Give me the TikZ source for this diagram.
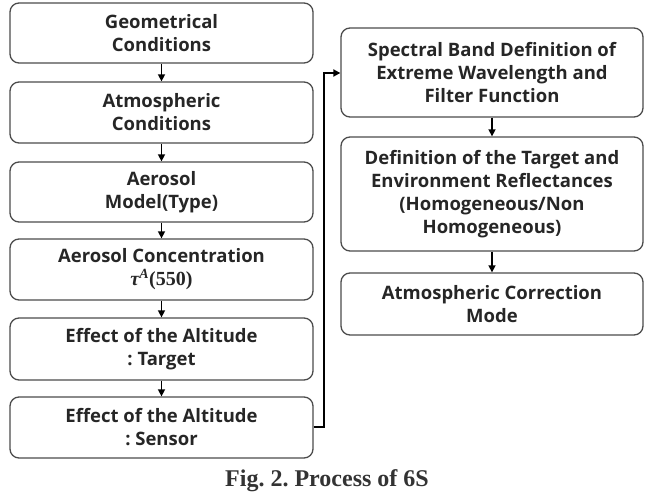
\documentclass[tikz,border=0pt]{standalone}
\usepackage{fontspec}
\setmainfont{Open Sans}
\newfontfamily\capfont{Liberation Serif}
\usetikzlibrary{arrows.meta}
\frenchspacing
\tikzset{
  box/.style={draw=black!70, line width=1.3pt, rounded corners=9pt, align=center,
    font=\fontsize{18.5}{23}\selectfont\bfseries, text=black!85, inner sep=0pt},
  lbox/.style={box, minimum width=303pt},
  rbox/.style={box, minimum width=302pt},
  arr/.style={line width=1.5pt, -{Triangle[length=7pt,width=7pt]}},
  link/.style={line width=2pt, -{Triangle[length=7pt,width=7pt]}}
}
\begin{document}
\begin{tikzpicture}[x=1pt,y=-1pt]
\useasboundingbox (0,0) rectangle (653,492);
\node[lbox, minimum height=60pt] (l1) at (161.5,33) {Geometrical\\Conditions};
\node[lbox, minimum height=61pt] (l2) at (161.5,112.5) {Atmospheric\\Conditions};
\node[lbox, minimum height=60pt] (l3) at (161.5,192) {Aerosol\\Model(Type)};
\node[lbox, minimum height=61pt] (l4) at (161.5,269.5) {Aerosol Concentration\\{\capfont\bfseries\fontsize{20}{23}\selectfont\itshape τ\textsuperscript{A}\upshape(550)}};
\node[lbox, minimum height=62pt] (l5) at (161.5,349) {Effect of the Altitude\\: Target};
\node[lbox, minimum height=61pt] (l6) at (161.5,427.5) {Effect of the Altitude\\: Sensor};
\node[rbox, minimum height=89pt] (r1) at (492,72.5) {Spectral Band Definition of\\Extreme Wavelength and\\Filter Function};
\node[rbox, minimum height=114pt] (r2) at (492,194) {Definition of the Target and\\Environment Reflectances\\(Homogeneous/Non\\Homogeneous)};
\node[rbox, minimum height=62pt] (r3) at (492,304) {Atmospheric Correction\\Mode};
\node[font=\capfont\fontsize{24}{26}\selectfont\bfseries, text=black!80, anchor=base, inner sep=0pt] (cap) at (327,486) {Fig. 2. Process of 6S};
\draw[arr] (l1) -- (l2);
\draw[arr] (l2) -- (l3);
\draw[arr] (l3) -- (l4);
\draw[arr] (l4) -- (l5);
\draw[arr] (l5) -- (l6);
\draw[arr] (r1) -- (r2);
\draw[arr] (r2) -- (r3);
\coordinate (t1) at (324,427);
\coordinate (t2) at (324,73);
\draw[link] (l6.east |- t1) -- (t1) -- (t2) -- (r1.west |- t2);
\end{tikzpicture}
\end{document}
